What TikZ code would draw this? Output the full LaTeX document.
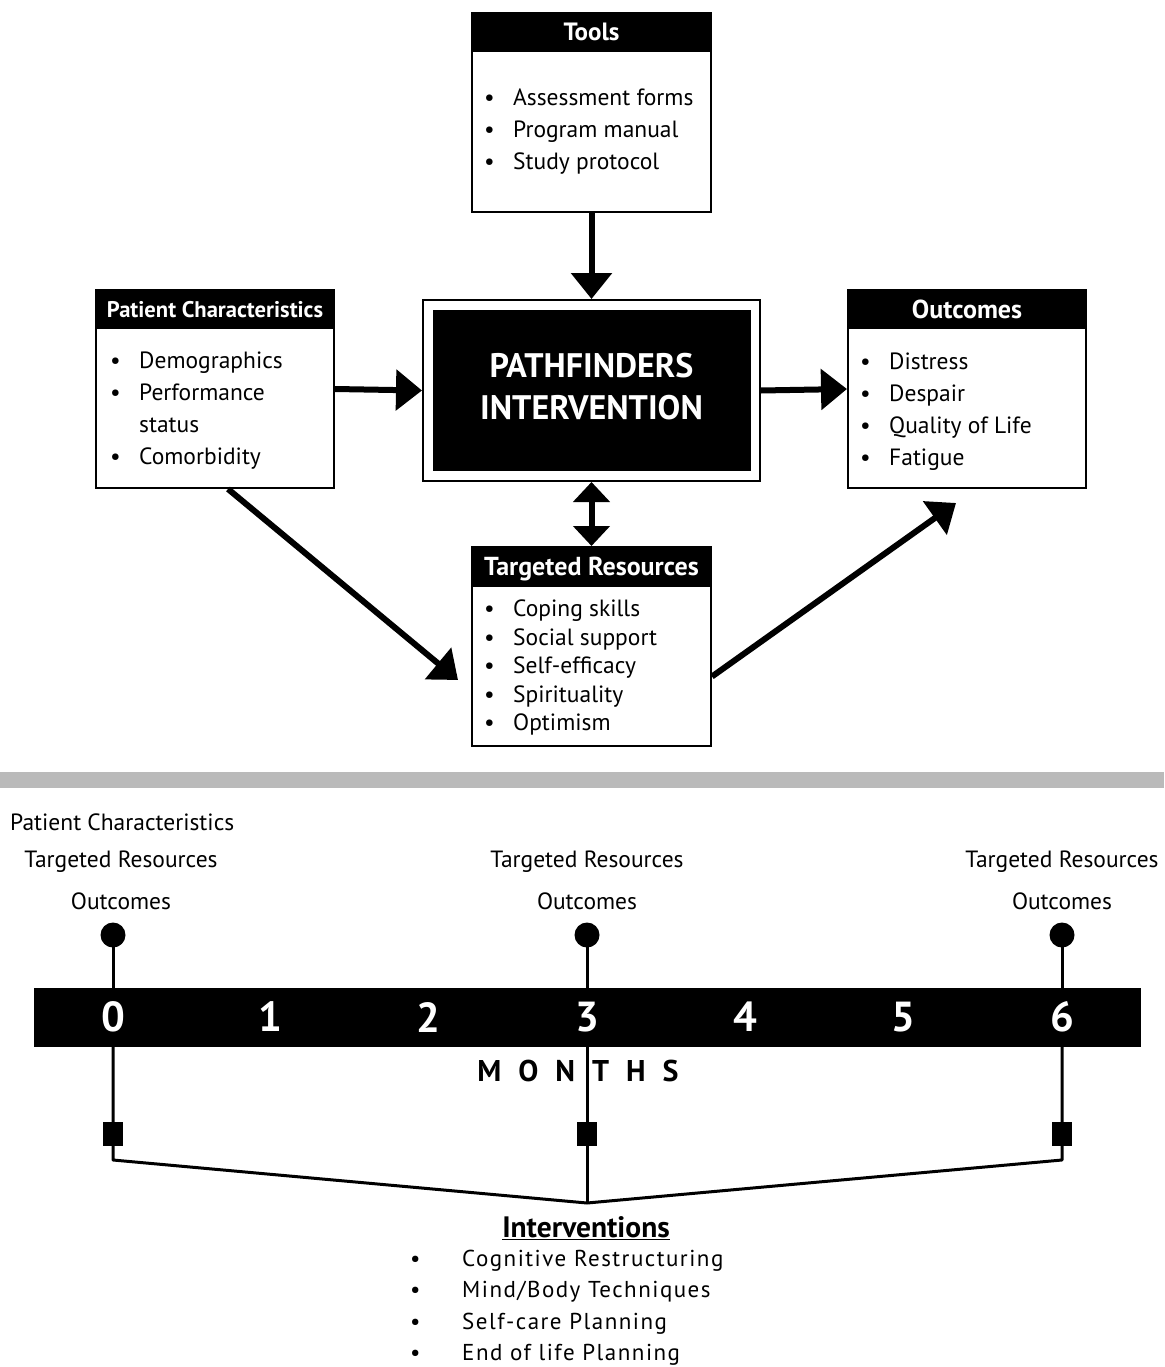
\documentclass[tikz,border=0pt]{standalone}
\usepackage{fontspec}
\setmainfont{PT Sans}
\usetikzlibrary{arrows.meta}
\begin{document}
\begin{tikzpicture}[x=1pt,y=-1pt,
  box/.style={draw, line width=2, fill=white, inner sep=0},
  hdr/.style={fill=black, text=white, inner sep=0, anchor=north, text depth=0pt},
  hfont/.style={font=\bfseries\fontsize{#1}{#1}\selectfont},
  body/.style={font=\fontsize{23.5}{32}\selectfont, align=left, anchor=north west, inner sep=0},
  bigarrow/.style={line width=6, -{Triangle[width=40,length=26]}},
  dblarrow/.style={line width=6, {Triangle[width=36,length=20]}-{Triangle[width=36,length=20]}},
  tl/.style={line width=3},
  lbl/.style={font=\fontsize{23.5}{26}\selectfont, inner sep=0},
  num/.style={text=white, font=\bfseries\fontsize{42}{46}\selectfont, inner sep=0},
  dot/.style={circle, fill=black, minimum size=25, inner sep=0},
  sq/.style={rectangle, fill=black, minimum width=20, minimum height=24, inner sep=0}
]
\useasboundingbox (0,0) rectangle (1164,1367);
\newcommand\bl{\makebox[29pt][l]{\textbullet}}
\newcommand\ind{\hspace*{29pt}}

% ---- Tools
\node[box, minimum width=239, minimum height=199] (tools) at (591.5,112.5) {};
\node[hdr, hfont=25, text height=17.5pt, minimum width=239, minimum height=40] (toolsH) at (tools.north) {Tools};
\node[body] (toolsT) at (484,89) {\bl Assessment forms\\ \bl Program manual\\ \bl Study protocol};

% ---- Patient characteristics
\node[box, minimum width=238, minimum height=198] (pc) at (215,389) {};
\node[hdr, hfont=22.6, text height=15.8pt, minimum width=238, minimum height=40] (pcH) at (pc.north) {Patient Characteristics};
\node[body] (pcT) at (110,352) {\bl Demographics\\ \bl Performance\\ \ind status\\ \bl Comorbidity};

% ---- Outcomes
\node[box, minimum width=238, minimum height=198] (out) at (967,389) {};
\node[hdr, hfont=26, text height=18.2pt, minimum width=238, minimum height=40] (outH) at (out.north) {Outcomes};
\node[body] (outT) at (860,353) {\bl Distress\\ \bl Despair\\ \bl Quality of Life\\ \bl Fatigue};

% ---- Center
\node[box, minimum width=337, minimum height=181] (cen) at (591.5,390.5) {};
\node[fill=black, minimum width=318, minimum height=161, inner sep=0] (cenI) at (cen.center) {};
\node[text=white, align=center, inner sep=0,
  font=\bfseries\fontsize{34}{42}\selectfont] (cenT) at ([yshift=4]cenI.center) {PATHFINDERS\\INTERVENTION};

% ---- Targeted resources
\node[box, minimum width=239, minimum height=199] (tr) at (591.5,646.5) {};
\node[hdr, hfont=26, text height=18.2pt, minimum width=239, minimum height=41] (trH) at (tr.north) {Targeted Resources};
\node[body, font=\fontsize{23.5}{28.5}\selectfont] (trT) at (484,600) {\bl Coping skills\\ \bl Social support\\ \bl Self-efficacy\\ \bl Spirituality\\ \bl Optimism};

% ---- Arrows
\draw[bigarrow] (tools.south) -- (cen.north);
\draw[bigarrow] (pc.east) -- (cen.west);
\draw[bigarrow] (cen.east) -- (out.west);
\draw[dblarrow] (cen.south) -- (tr.north);
\coordinate (tipA) at (458,680);
\coordinate (tipB) at (956,503);
\draw[bigarrow] ([xshift=13]pc.south) -- (tipA);
\draw[bigarrow] ([yshift=-30]tr.east) -- (tipB);

% ---- Separator
\fill[black!27] (0,772) rectangle (1164,788);

% ---- Timeline labels
\node[lbl, anchor=west] (lpc) at (10,822) {Patient Characteristics};
\node[lbl] (tr0) at (121,862) {Targeted Resources};
\node[lbl] (o0) at (121,901) {Outcomes};
\node[lbl] (tr3) at (587,862) {Targeted Resources};
\node[lbl] (o3) at (587,901) {Outcomes};
\node[lbl] (tr6) at (1062,862) {Targeted Resources};
\node[lbl] (o6) at (1062,901) {Outcomes};

% ---- Bar
\node[fill=black, minimum width=1107, minimum height=59, inner sep=0] (bar) at (587.5,1017.5) {};
\foreach \i/\x in {0/113,1/270,2/428,3/587,4/745,5/903,6/1062}
  \node[num] (n\i) at (\x,1017) {\i};

\node[dot] (d0) at (113,935) {};
\node[dot] (d3) at (587,935) {};
\node[dot] (d6) at (1062,935) {};
\draw[tl] (d0.center) -- (d0 |- bar.north);
\draw[tl] (d3.center) -- (d3 |- bar.north);
\draw[tl] (d6.center) -- (d6 |- bar.north);

\node[font=\bfseries\fontsize{30}{34}\selectfont, inner sep=0] (months) at (578,1071)
  {M\hspace{17pt}O\hspace{17pt}N\hspace{17pt}T\hspace{17pt}H\hspace{17pt}S};

\coordinate (c0) at (113,1160);
\coordinate (c6) at (1062,1160);
\coordinate (j) at (587,1203);
\draw[tl, line join=round] (bar.south -| d0) -- (c0) -- (j) -- (c6) -- (bar.south -| d6);
\draw[tl] (bar.south -| d3) -- (j);
\node[sq] (s0) at (113,1134) {};
\node[sq] (s3) at (587,1134) {};
\node[sq] (s6) at (1062,1134) {};

% ---- Interventions
\node[font=\bfseries\fontsize{29.5}{32}\selectfont, inner sep=0] (int) at (586,1228) {\underline{Interventions}};
\node[font=\fontsize{23}{31.3}\selectfont\addfontfeature{LetterSpace=6.5}, align=left, anchor=north west, inner sep=0] (intT) at (410,1250)
  {\makebox[52pt][l]{\textbullet}Cognitive Restructuring\\
   \makebox[52pt][l]{\textbullet}Mind/Body Techniques\\
   \makebox[52pt][l]{\textbullet}Self-care Planning\\
   \makebox[52pt][l]{\textbullet}End of life Planning};
\end{tikzpicture}
\end{document}
